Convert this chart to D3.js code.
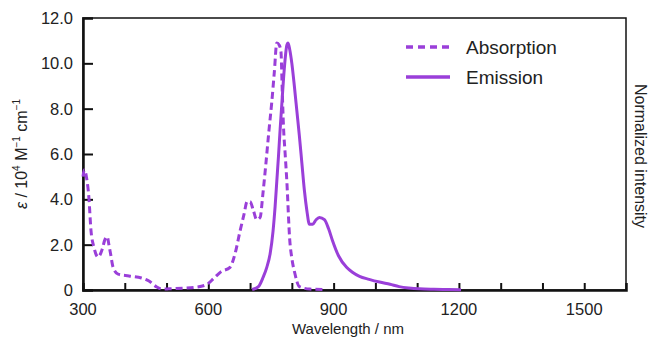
<!DOCTYPE html>
<html>
<head>
<meta charset="utf-8">
<script src="https://cdn.jsdelivr.net/npm/d3@7"></script>
<style>
  body { margin: 0; background: #fff; }
  #main { width: 651px; height: 340px; }
  text { font-family: "Liberation Sans", Arial, sans-serif; fill: #222; }
</style>
</head>
<body>
<div id="main"></div>
<script>
// wavelength (nm) / value pairs
const absWl = [300, 303, 309, 314, 319, 326, 336, 346, 352, 358, 362, 366, 372, 384, 410, 440, 458, 475, 490, 505, 540, 570, 597, 615, 630, 652, 664, 676, 685, 693, 700, 708, 716, 724, 731, 738, 745, 752, 758, 764, 770, 774, 777, 780, 784, 788, 795, 800, 807, 818, 843, 880];
const absVal = [5.0, 5.3, 4.9, 4.1, 2.65, 1.9, 1.45, 1.8, 2.2, 2.35, 2.0, 1.6, 1.0, 0.7, 0.62, 0.53, 0.4, 0.15, 0.04, 0.05, 0.08, 0.12, 0.25, 0.55, 0.8, 1.0, 1.6, 2.6, 3.3, 3.9, 3.9, 3.5, 3.1, 3.2, 4.3, 5.6, 7.0, 8.3, 9.6, 10.9, 10.8, 10.5, 8.8, 7.2, 6.0, 4.8, 2.2, 1.4, 0.75, 0.15, 0.04, 0.02];

const emWl = [705, 720, 731, 740, 748, 755, 760, 764, 768, 772, 776, 780, 784, 788, 791, 795, 800, 806, 812, 818, 824, 830, 836, 842, 850, 858, 866, 878, 888, 897, 912, 931, 945, 962, 985, 1010, 1035, 1057, 1080, 1105, 1140, 1175, 1205];
const emVal = [0.02, 0.15, 0.55, 1.0, 1.6, 2.6, 3.7, 4.8, 5.9, 7.1, 8.2, 9.3, 10.2, 10.8, 10.9, 10.6, 10.0, 9.0, 7.9, 6.8, 5.6, 4.4, 3.5, 2.9, 2.9, 3.1, 3.2, 3.1, 2.7, 2.2, 1.5, 1.0, 0.78, 0.6, 0.47, 0.35, 0.25, 0.15, 0.09, 0.05, 0.03, 0.02, 0.01];

const xMajor = [300, 600, 900, 1200, 1500];
const xTicks = [400, 500, 600, 700, 800, 900, 1000, 1100, 1200, 1300, 1400, 1500];
const yTicks = [0, 2, 4, 6, 8, 10, 12];

const purple = "#9a3fd9";

function createChart() {
    d3.select("#main svg").remove();

    const width = 651, height = 340;
    const margin = { left: 83, right: 25, top: 18, bottom: 50 };

    const svg = d3.select("#main").append("svg")
        .attr("width", width)
        .attr("height", height);

    const x = d3.scaleLinear().domain([300, 1600]).range([margin.left, width - margin.right]);
    const y = d3.scaleLinear().domain([0, 12]).range([height - margin.bottom, margin.top]);

    // frame: top and right thinner
    svg.append("rect")
        .attr("x", x(300)).attr("y", y(12))
        .attr("width", x(1600) - x(300)).attr("height", y(0) - y(12))
        .attr("fill", "none").attr("stroke", "#111").attr("stroke-width", 1.5);

    // bottom axis: ticks pointing inward
    const xAxis = svg.append("g")
        .attr("transform", `translate(0,${y(0)})`)
        .call(d3.axisBottom(x).tickValues(xTicks).tickSize(-7).tickFormat(""));
    xAxis.select(".domain").attr("stroke", "#111").attr("stroke-width", 2.5);
    xAxis.selectAll(".tick line").attr("stroke", "#111").attr("stroke-width", 2);

    svg.append("g").selectAll("text")
        .data(xMajor)
        .join("text")
        .attr("x", d => x(d))
        .attr("y", y(0) + 25)
        .attr("text-anchor", "middle")
        .attr("font-size", 16.5)
        .text(d => d);

    // left axis
    const yAxis = svg.append("g")
        .attr("transform", `translate(${x(300)},0)`)
        .call(d3.axisLeft(y).tickValues(yTicks.slice(1, -1)).tickSize(-10).tickFormat(""));
    yAxis.select(".domain").attr("stroke", "#111").attr("stroke-width", 2.5);
    yAxis.selectAll(".tick line").attr("stroke", "#111").attr("stroke-width", 2);

    svg.append("g").selectAll("text")
        .data(yTicks)
        .join("text")
        .attr("x", x(300) - 10)
        .attr("y", d => y(d) + 6)
        .attr("text-anchor", "end")
        .attr("font-size", 16.5)
        .text(d => d === 0 ? "0" : d.toFixed(1));

    // axis titles
    svg.append("text")
        .attr("x", 348)
        .attr("y", 334)
        .attr("text-anchor", "middle")
        .attr("font-size", 15)
        .text("Wavelength / nm");

    const yl = svg.append("text")
        .attr("transform", `translate(27,154) rotate(-90)`)
        .attr("text-anchor", "middle")
        .attr("font-size", 16);
    yl.append("tspan").attr("font-style", "italic").text("ε");
    yl.append("tspan").text(" / 10");
    yl.append("tspan").attr("font-size", 10).attr("dy", -7).text("4");
    yl.append("tspan").attr("dy", 7).text(" M");
    yl.append("tspan").attr("font-size", 10).attr("dy", -7).text("−1");
    yl.append("tspan").attr("dy", 7).text(" cm");
    yl.append("tspan").attr("font-size", 10).attr("dy", -7).text("−1");

    svg.append("text")
        .attr("transform", `translate(635,156) rotate(90)`)
        .attr("text-anchor", "middle")
        .attr("font-size", 16)
        .text("Normalized intensity");

    // curves
    const line = d3.line().x(d => x(d[0])).y(d => y(d[1])).curve(d3.curveMonotoneX);

    svg.append("path")
        .datum(d3.zip(absWl, absVal))
        .attr("d", line)
        .attr("fill", "none")
        .attr("stroke", purple)
        .attr("stroke-width", 3)
        .attr("stroke-dasharray", "7,4");

    svg.append("path")
        .datum(d3.zip(emWl, emVal))
        .attr("d", line)
        .attr("fill", "none")
        .attr("stroke", purple)
        .attr("stroke-width", 3);

    // legend
    const legend = svg.append("g");
    const items = [["Absorption", "7,5", 47], ["Emission", null, 77]];
    items.forEach(([label, dash, ly]) => {
        legend.append("line")
            .attr("x1", 406).attr("x2", 450)
            .attr("y1", ly).attr("y2", ly)
            .attr("stroke", purple).attr("stroke-width", 3.5)
            .attr("stroke-dasharray", dash);
        legend.append("text")
            .attr("x", 466).attr("y", ly + 7)
            .attr("font-size", 19)
            .text(label);
    });
}

document.addEventListener("DOMContentLoaded", function() {
    createChart();
});
</script>
</body>
</html>
